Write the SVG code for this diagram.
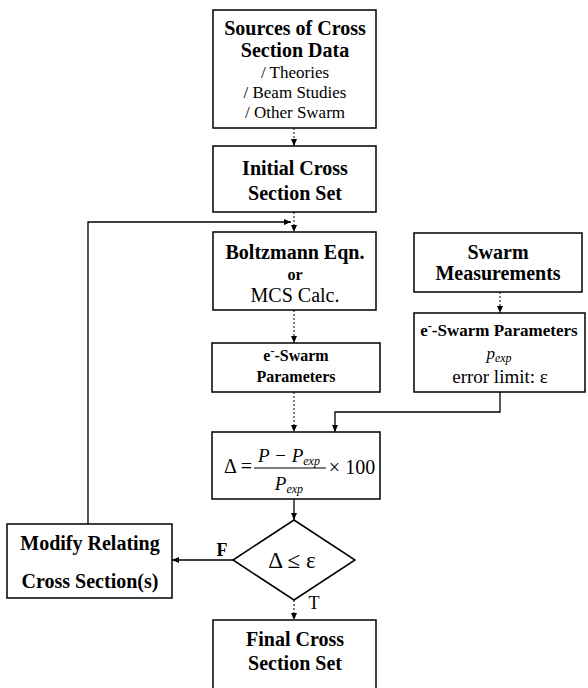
<svg xmlns="http://www.w3.org/2000/svg" width="588" height="688" viewBox="0 0 588 688">
<defs>
<style>
.box{fill:#fff;stroke:#000;stroke-width:1.5}
.ln{fill:none;stroke:#000;stroke-width:1.3}
.dl{fill:none;stroke:#000;stroke-width:1;stroke-dasharray:2 2}
text{font-family:"Liberation Serif","Times New Roman",serif;fill:#000;text-anchor:middle}
.b{font-weight:bold;font-size:20px}
.bs{font-weight:bold;font-size:16px}
.bm{font-weight:bold;font-size:17px}
.n{font-size:17px}
.nl{font-size:20px}
.i{font-style:italic;font-size:19px}
.sub{font-size:12px}
</style>
<marker id="ah" markerWidth="8" markerHeight="8" refX="7" refY="4" orient="auto" markerUnits="userSpaceOnUse">
<path d="M0,1 L7,4 L0,7 Z" fill="#000"/>
</marker>
</defs>
<rect width="588" height="688" fill="#fff"/>
<g id="connectors">
<line class="dl" x1="294" y1="128" x2="294" y2="146" marker-end="url(#ah)"/>
<line class="dl" x1="294" y1="212" x2="294" y2="232" marker-end="url(#ah)"/>
<polyline class="ln" points="88,524 88,222 291,222" marker-end="url(#ah)"/>
<line class="dl" x1="294" y1="310" x2="294" y2="343" marker-end="url(#ah)"/>
<line class="dl" x1="500" y1="292" x2="500" y2="313" marker-end="url(#ah)"/>
<line class="dl" x1="294" y1="392" x2="294" y2="432" marker-end="url(#ah)"/>
<polyline class="ln" points="500,392 500,412 335,412 335,432" marker-end="url(#ah)"/>
<line class="ln" x1="294" y1="499" x2="294" y2="520" marker-end="url(#ah)"/>
<line class="ln" x1="233" y1="560" x2="172" y2="560" marker-end="url(#ah)"/>
<line class="dl" x1="294" y1="600" x2="294" y2="620" marker-end="url(#ah)"/>
<text class="b" x="222" y="556" style="font-size:18px">F</text>
<text class="nl" x="314" y="609" style="font-size:18px">T</text>
</g>
<g id="sources">
<rect class="box" x="213" y="10" width="163" height="118"/>
<text class="b" x="295" y="35">Sources of Cross</text>
<text class="b" x="295" y="57">Section Data</text>
<text class="n" x="295" y="78">/ Theories</text>
<text class="n" x="295" y="98">/ Beam Studies</text>
<text class="n" x="295" y="118">/ Other Swarm</text>
</g>
<g id="initial">
<rect class="box" x="213" y="146" width="163" height="66"/>
<text class="b" x="295" y="175">Initial Cross</text>
<text class="b" x="295" y="200">Section Set</text>
</g>
<g id="boltzmann">
<rect class="box" x="213" y="232" width="163" height="78"/>
<text class="b" x="295" y="259">Boltzmann Eqn.</text>
<text class="bs" x="295" y="280">or</text>
<text class="nl" x="295" y="302">MCS Calc.</text>
</g>
<g id="eswarm">
<rect class="box" x="212" y="343" width="168" height="49"/>
<text class="bs" x="296" y="361">e<tspan dy="-6" class="sub">-</tspan><tspan dy="6">-Swarm</tspan></text>
<text class="bs" x="296" y="382">Parameters</text>
</g>
<g id="swarm">
<rect class="box" x="414" y="233" width="168" height="59"/>
<text class="b" x="498" y="259">Swarm</text>
<text class="b" x="498" y="280">Measurements</text>
</g>
<g id="swarmparams">
<rect class="box" x="414" y="313" width="171" height="79"/>
<text class="bm" x="499" y="336">e<tspan dy="-6" class="sub">-</tspan><tspan dy="6">-Swarm Parameters</tspan></text>
<text class="i" x="499" y="359" style="font-size:17px">p<tspan dy="3" class="sub">exp</tspan></text>
<text class="nl" x="500" y="383" style="font-size:19px">error limit: ε</text>
</g>
<g id="formula">
<rect class="box" x="212" y="432" width="168" height="67"/>
<text class="nl" x="238" y="473">Δ =</text>
<text class="i" x="289" y="462">P − P<tspan dy="3" class="sub">exp</tspan></text>
<line x1="254" y1="468" x2="326" y2="468" stroke="#000" stroke-width="1.2"/>
<text class="i" x="289" y="490">P<tspan dy="3" class="sub">exp</tspan></text>
<text class="nl" x="352" y="474">× 100</text>
</g>
<g id="decision">
<polygon class="box" points="294,520 355,560 294,600 233,560"/>
<text class="nl" x="292" y="568" style="font-size:23px">Δ ≤ ε</text>
</g>
<g id="modify">
<rect class="box" x="7" y="524" width="165" height="74"/>
<text class="b" x="90" y="550">Modify Relating</text>
<text class="b" x="90" y="588">Cross Section(s)</text>
</g>
<g id="final">
<rect class="box" x="213" y="620" width="163" height="80"/>
<text class="b" x="295" y="646">Final Cross</text>
<text class="b" x="295" y="670">Section Set</text>
</g>
</svg>
